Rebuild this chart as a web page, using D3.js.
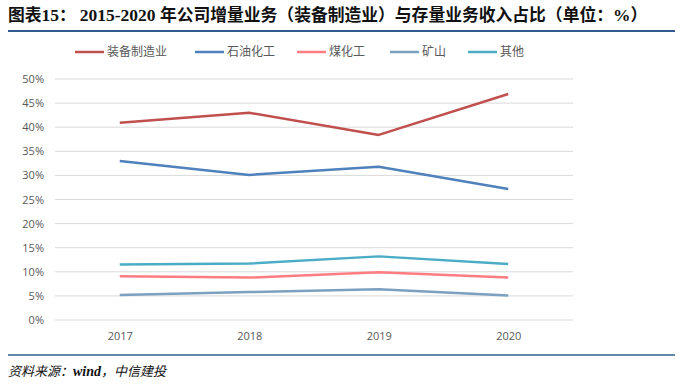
<!DOCTYPE html>
<html>
<head>
<meta charset="utf-8">
<script src="https://cdn.jsdelivr.net/npm/d3@7"></script>
<style>
body{margin:0;background:#fff;}
</style>
</head>
<body>
<div id="chart"></div>
<script>
// data
const years=["2017","2018","2019","2020"];
const seriesNames=["装备制造业","石油化工","煤化工","矿山","其他"];
const zhuangbei=[40.9,43.0,38.4,46.9];
const shiyou=[33.0,30.1,31.8,27.2];
const meihua=[9.1,8.8,9.9,8.8];
const kuangshan=[5.2,5.8,6.4,5.1];
const qita=[11.5,11.7,13.2,11.6];
const yTicks=[0,5,10,15,20,25,30,35,40,45,50];
const colors=["#c0504d","#4f81bd","#ff7c80","#7ba0c0","#4bacc6"];

const W=699,H=386;
const cjk="'Noto Sans CJK SC','Noto Sans',sans-serif";
const serif="'Liberation Serif','DejaVu Serif',serif";
const svg=d3.select("#chart").append("svg")
	.attr("width",W)
	.attr("height",H)
	.style("font-family",cjk);

//title, digits in serif like the original
const titleParts=[["图表",cjk],["15",serif],["：   ",cjk],["2015-2020 ",serif],["年公司增量业务（装备制造业）与存量业务收入占比（单位：",cjk],["%",serif],["）",cjk]];
const title=svg.append("text")
	.attr("x",8)
	.attr("y",21)
	.attr("font-weight","bold")
	.attr("fill","#111");
title.selectAll("tspan")
	.data(titleParts)
	.enter()
	.append("tspan")
	.style("font-family",d=>d[1])
	.attr("font-size",d=>d[1]===serif?17.5:16.8)
	.text(d=>d[0]);
svg.append("line")
	.attr("x1",8).attr("x2",675)
	.attr("y1",31).attr("y2",31)
	.attr("stroke","#2f5b8f")
	.attr("stroke-width",2);

//scales
const x=d3.scalePoint()
	.domain(years)
	.range([55,573])
	.padding(0.5);
const y=d3.scaleLinear()
	.domain([0,50])
	.range([320,79]);

//grid
svg.append("g")
	.selectAll("line")
	.data(yTicks)
	.enter()
	.append("line")
	.attr("x1",55).attr("x2",573)
	.attr("y1",d=>y(d)).attr("y2",d=>y(d))
	.attr("stroke","#d9d9d9")
	.attr("stroke-width",1);

//y axis
const yAxis=d3.axisLeft(y)
	.tickValues(yTicks)
	.tickSize(0)
	.tickPadding(8)
	.tickFormat(d=>d+"%");
const gy=svg.append("g")
	.attr("transform","translate(52,0)")
	.call(yAxis);
gy.select(".domain").remove();
gy.selectAll("text")
	.attr("font-size",11)
	.attr("fill","#595959")
	.style("font-family","'Open Sans','DejaVu Sans',sans-serif");

//x axis
const xAxis=d3.axisBottom(x).tickSize(0).tickPadding(12);
const gx=svg.append("g")
	.attr("transform","translate(0,320)")
	.call(xAxis);
gx.select(".domain").remove();
gx.selectAll("text")
	.attr("font-size",11)
	.attr("fill","#595959")
	.style("font-family","'Open Sans','DejaVu Sans',sans-serif");

//lines
const allSeries=[zhuangbei,shiyou,meihua,kuangshan,qita];
const line=d3.line()
	.x((d,i)=>x(years[i]))
	.y(d=>y(d));
svg.append("g")
	.selectAll("path")
	.data(allSeries)
	.enter()
	.append("path")
	.attr("d",d=>line(d))
	.attr("fill","none")
	.attr("stroke",(d,i)=>colors[i])
	.attr("stroke-width",2.5)
	.attr("stroke-linejoin","round");

//legend
const legendX=[75,195,297,390,468];
const legend=svg.append("g")
	.selectAll("g")
	.data(seriesNames)
	.enter()
	.append("g")
	.attr("transform",(d,i)=>`translate(${legendX[i]},52)`);
legend.append("line")
	.attr("x1",0).attr("x2",29)
	.attr("stroke",(d,i)=>colors[i])
	.attr("stroke-width",2.5);
legend.append("text")
	.attr("x",32)
	.attr("y",4)
	.attr("font-size",12)
	.attr("fill","#595959")
	.text(d=>d);

//source
svg.append("line")
	.attr("x1",8).attr("x2",675)
	.attr("y1",355).attr("y2",355)
	.attr("stroke","#2f5b8f")
	.attr("stroke-width",1.5);
const src=svg.append("text")
	.attr("x",8)
	.attr("y",376)
	.attr("font-size",13)
	.attr("font-style","italic")
	.attr("fill","#111");
src.append("tspan").text("资料来源：");
src.append("tspan").style("font-family",serif).attr("font-weight","bold").attr("font-size",14).text("wind");
src.append("tspan").text("，中信建投");
</script>
</body>
</html>
